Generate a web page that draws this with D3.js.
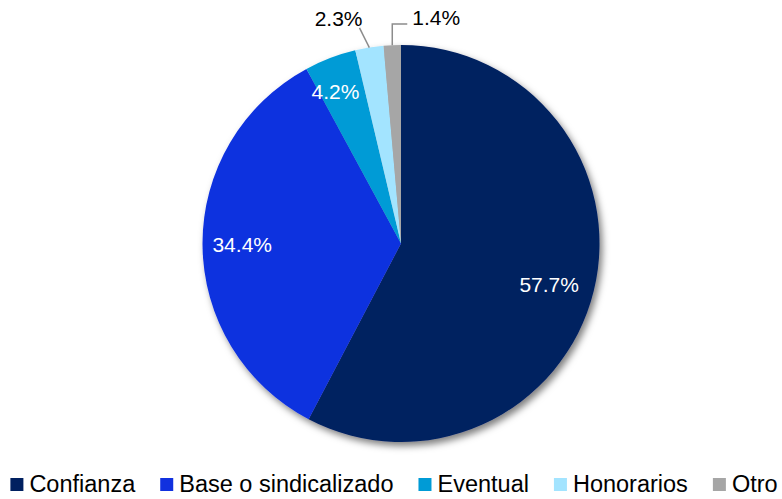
<!DOCTYPE html>
<html>
  <head lang="es">
    <meta charset="utf-8">
    <title>Pie chart</title>
    <script src="https://cdn.jsdelivr.net/npm/d3@7"></script>
    <style>
      body { margin: 0; background: #fff; }
      text { font-family: "Liberation Sans", Arial, sans-serif; }
    </style>
  </head>
  <body>
    <script>
      // data
      var categories = ["Confianza", "Base o sindicalizado", "Eventual", "Honorarios", "Otro"];
      var values = [57.7, 34.4, 4.2, 2.3, 1.4];
      var colors = ["#002060", "#1131DF", "#009BD6", "#A3E4FF", "#A6A6A6"];

      var width = 782, height = 499;
      var cx = 401, cy = 243.5, radius = 198.5;

      var svg = d3.select("body").append("svg")
          .attr("width", width)
          .attr("height", height);

      // soft shadow under the pie
      var filter = svg.append("defs").append("filter")
          .attr("id", "shadow")
          .attr("x", "-10%").attr("y", "-10%")
          .attr("width", "125%").attr("height", "125%");
      filter.append("feDropShadow")
          .attr("dx", 3).attr("dy", 4)
          .attr("stdDeviation", 3.5)
          .attr("flood-color", "#000")
          .attr("flood-opacity", 0.5);

      var data = categories.map(function(c, i) {
        return {name: c, value: values[i], color: colors[i]};
      });

      var pie = d3.pie().sort(null).value(function(d) { return d.value; });
      var arcs = pie(data);

      var arc = d3.arc().innerRadius(0).outerRadius(radius);
      var labelArc = d3.arc().innerRadius(radius * 0.8).outerRadius(radius * 0.8);

      var g = svg.append("g")
          .attr("transform", "translate(" + cx + "," + cy + ")");

      g.append("g")
          .attr("filter", "url(#shadow)")
          .selectAll("path")
          .data(arcs)
          .enter()
          .append("path")
          .attr("d", arc)
          .attr("fill", function(d) { return d.data.color; });

      var fmt = function(v) { return v.toFixed(1) + "%"; };

      // labels inside the bigger slices (small nudges like the original's best fit)
      var nudge = [[-6, 3], [0, 0], [-9, -4]];
      var inside = arcs.filter(function(d) { return d.data.value >= 4; });
      g.selectAll("text.inside")
          .data(inside)
          .enter()
          .append("text")
          .attr("class", "inside")
          .attr("transform", function(d, i) {
            var c = labelArc.centroid(d);
            return "translate(" + (c[0] + nudge[i][0]) + "," + (c[1] + 7.5 + nudge[i][1]) + ")";
          })
          .attr("text-anchor", "middle")
          .attr("font-size", 21)
          .attr("fill", "#fff")
          .text(function(d) { return fmt(d.data.value); });

      // small slices get labels outside with leader lines
      var outside = arcs.filter(function(d) { return d.data.value < 4; });
      function point(a, r) {
        return [r * Math.sin(a), -r * Math.cos(a)];
      }
      outside.forEach(function(d, i) {
        var mid = (d.startAngle + d.endAngle) / 2;
        var p0 = point(mid, radius);
        var pts, tx, ty, anchor;
        if (i === 0) {
          var p1 = point(mid - 0.03, radius + 21);
          pts = [p0, p1];
          tx = p1[0] + 3; ty = p1[1] - 2; anchor = "end";
        } else {
          var top = -cy + 24;
          pts = [p0, [p0[0], top], [p0[0] + 15, top]];
          tx = p0[0] + 20; ty = top + 1; anchor = "start";
        }
        g.append("path")
            .attr("d", d3.line()(pts))
            .attr("fill", "none")
            .attr("stroke", "#8c8c8c")
            .attr("stroke-width", 1.5);
        g.append("text")
            .attr("x", tx)
            .attr("y", ty)
            .attr("text-anchor", anchor)
            .attr("font-size", 21)
            .attr("fill", "#000")
            .text(fmt(d.data.value));
      });

      // legend along the bottom
      var legend = svg.append("g");
      var items = legend.selectAll("g")
          .data(data)
          .enter()
          .append("g");
      items.append("rect")
          .attr("width", 13)
          .attr("height", 13)
          .attr("y", 478)
          .attr("fill", function(d) { return d.color; });
      items.append("text")
          .attr("x", 19)
          .attr("y", 492)
          .attr("font-size", 23.5)
          .attr("fill", "#000")
          .text(function(d) { return d.name; });

      var x = 0, widths = [];
      items.each(function() {
        var w = d3.select(this).select("text").node().getComputedTextLength() + 19;
        widths.push(w);
      });
      var total = d3.sum(widths) + 25 * (widths.length - 1);
      x = 394 - total / 2;
      items.attr("transform", function(d, i) {
        var t = "translate(" + x + ",0)";
        x += widths[i] + 25;
        return t;
      });
    </script>
  </body>
</html>
